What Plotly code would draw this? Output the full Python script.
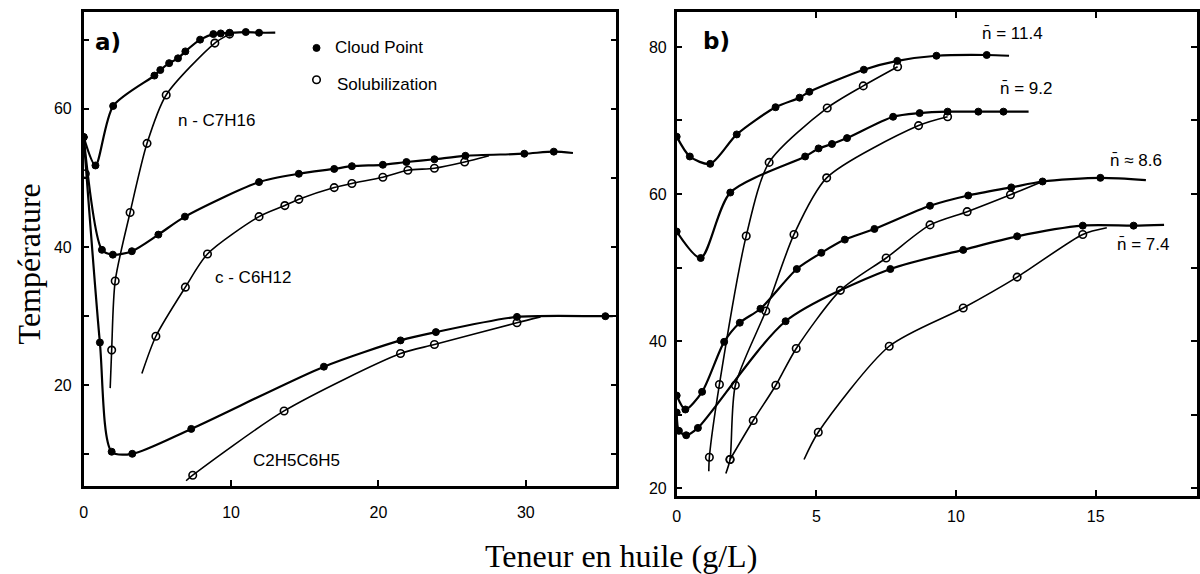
import plotly.graph_objects as go

# ---------------- Panel a) data (x: oil content g/L, y: temperature) ----------------
# n-C7H16
a_c7_cloud_x = [0, 0.8, 2.0, 4.8, 5.2, 5.8, 6.4, 6.9, 7.9, 8.8, 9.3, 9.9, 11.0, 11.9]
a_c7_cloud_y = [55.9, 51.8, 60.4, 64.8, 65.6, 66.6, 67.3, 68.3, 70.0, 70.8, 70.9, 71.0, 71.1, 71.0]
a_c7_cloud_end = [13.0, 71.0]
a_c7_sol_x = [1.9, 2.14, 3.15, 4.3, 5.6, 8.9, 9.9]
a_c7_sol_y = [25.1, 35.1, 45.0, 55.0, 62.0, 69.5, 70.8]
a_c7_sol_start = [1.8, 19.6]

# c-C6H12
a_c6_cloud_x = [0, 1.24, 1.98, 3.27, 5.07, 6.87, 11.9, 14.6, 17.0, 18.2, 20.3, 21.9, 23.8, 25.9, 29.9, 31.9]
a_c6_cloud_y = [55.9, 39.6, 38.9, 39.4, 41.8, 44.4, 49.4, 50.6, 51.3, 51.7, 51.9, 52.3, 52.7, 53.2, 53.5, 53.8]
a_c6_cloud_end = [33.2, 53.6]
a_c6_sol_x = [4.9, 6.9, 8.4, 11.9, 13.65, 14.6, 17.0, 18.2, 20.3, 22.0, 23.8, 25.85]
a_c6_sol_y = [27.1, 34.2, 39.0, 44.4, 46.0, 46.9, 48.6, 49.2, 50.1, 51.1, 51.4, 52.3]
a_c6_sol_start = [3.95, 21.7]
a_c6_sol_end = [27.5, 53.2]

# C2H5C6H5
a_eb_cloud_x = [0, 1.1, 1.9, 3.3, 7.3, 16.3, 21.5, 23.9, 29.4, 35.4]
a_eb_cloud_y = [55.9, 26.2, 10.4, 10.1, 13.7, 22.7, 26.5, 27.7, 29.9, 30.0]
a_eb_cloud_end = [35.9, 30.0]
a_eb_sol_x = [7.4, 13.6, 21.5, 23.8, 29.4]
a_eb_sol_y = [7.0, 16.3, 24.6, 25.9, 29.05]
a_eb_sol_start = [6.95, 6.2]
a_eb_sol_end = [31.0, 29.9]

# isolated solubilization point at zero oil content
a_zero_sol_x = [0.11]
a_zero_sol_y = [50.6]

# legend symbols (panel a coordinates)
a_legend_x = [15.8, 15.8]
a_legend_y = [68.8, 64.2]

# ---------------- Panel b) data ----------------
b_114_cloud_x = [0, 0.47, 1.2, 2.15, 3.54, 4.4, 4.75, 6.7, 7.9, 9.3, 11.1]
b_114_cloud_y = [67.8, 65.1, 64.1, 68.1, 71.8, 73.1, 73.9, 76.9, 78.1, 78.8, 78.9]
b_114_cloud_end = [11.9, 78.8]
b_114_sol_x = [1.17, 1.53, 2.49, 3.31, 5.39, 6.68, 7.91]
b_114_sol_y = [24.2, 34.1, 54.3, 64.3, 71.7, 74.7, 77.3]
b_114_sol_start = [1.15, 22.3]

b_92_cloud_x = [0, 0.86, 1.92, 4.6, 5.08, 5.56, 6.1, 7.75, 8.7, 9.7, 10.8, 11.7]
b_92_cloud_y = [54.9, 51.3, 60.2, 65.1, 66.2, 66.8, 67.6, 70.5, 71.0, 71.2, 71.2, 71.2]
b_92_cloud_end = [12.6, 71.2]
b_92_sol_x = [1.91, 2.1, 3.19, 4.2, 5.37, 8.66, 9.7]
b_92_sol_y = [23.9, 34.0, 44.1, 54.5, 62.2, 69.3, 70.5]
b_92_sol_start = [1.76, 22.0]

b_86_cloud_x = [0, 0.31, 0.91, 1.7, 2.26, 3.0, 4.3, 5.18, 6.02, 7.08, 9.07, 10.44, 11.98, 13.1, 15.17]
b_86_cloud_y = [32.6, 30.7, 33.1, 39.9, 42.5, 44.4, 49.8, 52.0, 53.8, 55.25, 58.4, 59.8, 60.9, 61.7, 62.2]
b_86_cloud_end = [16.8, 61.9]
b_86_sol_x = [1.91, 2.74, 3.55, 4.28, 5.86, 7.5, 9.07, 10.4, 11.95]
b_86_sol_y = [23.9, 29.2, 34.0, 39.0, 46.9, 51.3, 55.8, 57.6, 59.9]
b_86_sol_end = [13.1, 61.7]

b_74_cloud_x = [0, 0.08, 0.34, 0.76, 3.9, 7.65, 10.26, 12.19, 14.54, 16.36]
b_74_cloud_y = [30.3, 27.8, 27.2, 28.2, 42.7, 49.8, 52.4, 54.25, 55.7, 55.7]
b_74_cloud_end = [17.45, 55.8]
b_74_sol_x = [5.07, 7.61, 10.26, 12.19, 14.54]
b_74_sol_y = [27.6, 39.3, 44.5, 48.7, 54.5]
b_74_sol_start = [4.56, 23.9]
b_74_sol_end = [15.4, 55.4]

# tick values
a_xticks = [0, 10, 20, 30]
a_yticks = [20, 40, 60]
b_xticks = [0, 5, 10, 15]
b_yticks = [20, 40, 60, 80]

# ---------------- figure ----------------
fig = go.Figure()

FILLED = dict(size=7, symbol="circle", color="black", line=dict(color="black", width=1))
OPEN = dict(size=7.5, symbol="circle-open", color="black", line=dict(color="black", width=1.6))


def path(xs, ys, start=None, end=None):
    px, py = list(xs), list(ys)
    if start is not None:
        px, py = [start[0]] + px, [start[1]] + py
    if end is not None:
        px, py = px + [end[0]], py + [end[1]]
    return px, py


def add_series(xs, ys, filled, xa, ya, start=None, end=None):
    lx, ly = path(xs, ys, start, end)
    fig.add_trace(go.Scatter(
        x=lx, y=ly, mode="lines", xaxis=xa, yaxis=ya, showlegend=False,
        hoverinfo="skip",
        line=dict(color="black", width=2.2 if filled else 1.6, shape="spline", smoothing=0.75)))
    fig.add_trace(go.Scatter(
        x=xs, y=ys, mode="markers", xaxis=xa, yaxis=ya, showlegend=False,
        marker=FILLED if filled else OPEN))


add_series(a_c7_cloud_x, a_c7_cloud_y, True, "x", "y", end=a_c7_cloud_end)
add_series(a_c7_sol_x, a_c7_sol_y, False, "x", "y", start=a_c7_sol_start)
add_series(a_c6_cloud_x, a_c6_cloud_y, True, "x", "y", end=a_c6_cloud_end)
add_series(a_c6_sol_x, a_c6_sol_y, False, "x", "y", start=a_c6_sol_start, end=a_c6_sol_end)
add_series(a_eb_cloud_x, a_eb_cloud_y, True, "x", "y", end=a_eb_cloud_end)
add_series(a_eb_sol_x, a_eb_sol_y, False, "x", "y", start=a_eb_sol_start, end=a_eb_sol_end)
fig.add_trace(go.Scatter(x=a_zero_sol_x, y=a_zero_sol_y, mode="markers", showlegend=False,
                         marker=OPEN))
fig.add_trace(go.Scatter(x=a_legend_x[:1], y=a_legend_y[:1], mode="markers", showlegend=False,
                         hoverinfo="skip", marker=FILLED))
fig.add_trace(go.Scatter(x=a_legend_x[1:], y=a_legend_y[1:], mode="markers", showlegend=False,
                         hoverinfo="skip", marker=OPEN))

add_series(b_114_cloud_x, b_114_cloud_y, True, "x2", "y2", end=b_114_cloud_end)
add_series(b_114_sol_x, b_114_sol_y, False, "x2", "y2", start=b_114_sol_start)
add_series(b_92_cloud_x, b_92_cloud_y, True, "x2", "y2", end=b_92_cloud_end)
add_series(b_92_sol_x, b_92_sol_y, False, "x2", "y2", start=b_92_sol_start)
add_series(b_86_cloud_x, b_86_cloud_y, True, "x2", "y2", end=b_86_cloud_end)
add_series(b_86_sol_x, b_86_sol_y, False, "x2", "y2", end=b_86_sol_end)
add_series(b_74_cloud_x, b_74_cloud_y, True, "x2", "y2", end=b_74_cloud_end)
add_series(b_74_sol_x, b_74_sol_y, False, "x2", "y2", start=b_74_sol_start, end=b_74_sol_end)

W, H = 1200, 574
tickfont = dict(family="Liberation Sans, Arial, sans-serif", size=16, color="black")
axis_common = dict(showgrid=False, zeroline=False, showline=True, linecolor="black",
                   linewidth=2.5, ticks="inside", ticklen=6, tickwidth=1.5, tickcolor="black",
                   tickfont=tickfont)

fig.update_layout(
    width=W, height=H,
    margin=dict(l=0, r=0, t=0, b=0),
    paper_bgcolor="white", plot_bgcolor="white",
    hovermode=False,
    xaxis=dict(domain=[80 / W, 615 / W], range=[0, 36.15], tickvals=a_xticks,
               anchor="y", mirror=True, ticklabelstandoff=10, **axis_common),
    yaxis=dict(domain=[1 - 487 / H, 1 - 12 / H], range=[5.42, 74.0], tickvals=a_yticks,
               anchor="x", mirror="ticks", ticklabelstandoff=6,
               minor=dict(tickvals=[10, 30, 50, 70], ticks="inside", ticklen=6, tickcolor="black"),
               **axis_common),
    xaxis2=dict(domain=[675.5 / W, 1198 / W], range=[0, 18.63], tickvals=b_xticks,
                anchor="y2", mirror="ticks", ticklabelstandoff=4, **axis_common),
    yaxis2=dict(domain=[1 - 497 / H, 1 - 12 / H], range=[18.92, 84.75], tickvals=b_yticks,
                anchor="x2", mirror="ticks", ticklabelstandoff=4,
                minor=dict(tickvals=[30, 50, 70], ticks="inside", ticklen=6, tickcolor="black"),
                **axis_common),
)

lab = dict(family="Liberation Sans, Arial, sans-serif", size=17, color="black")
serif = dict(family="Liberation Serif, Times New Roman, serif", size=32, color="black")
bold = dict(family="DejaVu Sans, sans-serif", size=23, color="black")


def px_note(text, x, y, font, xanchor="center", angle=0):
    fig.add_annotation(text=text, x=x / W, y=1 - y / H, xref="paper", yref="paper",
                       showarrow=False, font=font, xanchor=xanchor, yanchor="middle",
                       textangle=angle)


px_note("<b>a)</b>", 104, 42, bold)
px_note("<b>b)</b>", 715, 41, bold)
px_note("Cloud Point", 330, 48, lab, xanchor="left")
px_note("Solubilization", 332, 85, lab, xanchor="left")
px_note("n - C7H16", 213, 121, lab)
px_note("c - C6H12", 251, 278, lab)
px_note("C2H5C6H5", 294, 461, lab)
px_note("n\u0304 = 11.4", 1013, 34, lab)
px_note("n\u0304 = 9.2", 1026, 89, lab)
px_note("n\u0304 \u2248 8.6", 1137, 161, lab)
px_note("n\u0304 = 7.4", 1144, 245, lab)
px_note("Teneur en huile (g/L)", 620, 557, serif)
px_note("Température", 25, 264, serif, angle=-90)

fig.write_html("out.html", config={"displayModeBar": False},
               post_script="document.body.style.margin='0';")
